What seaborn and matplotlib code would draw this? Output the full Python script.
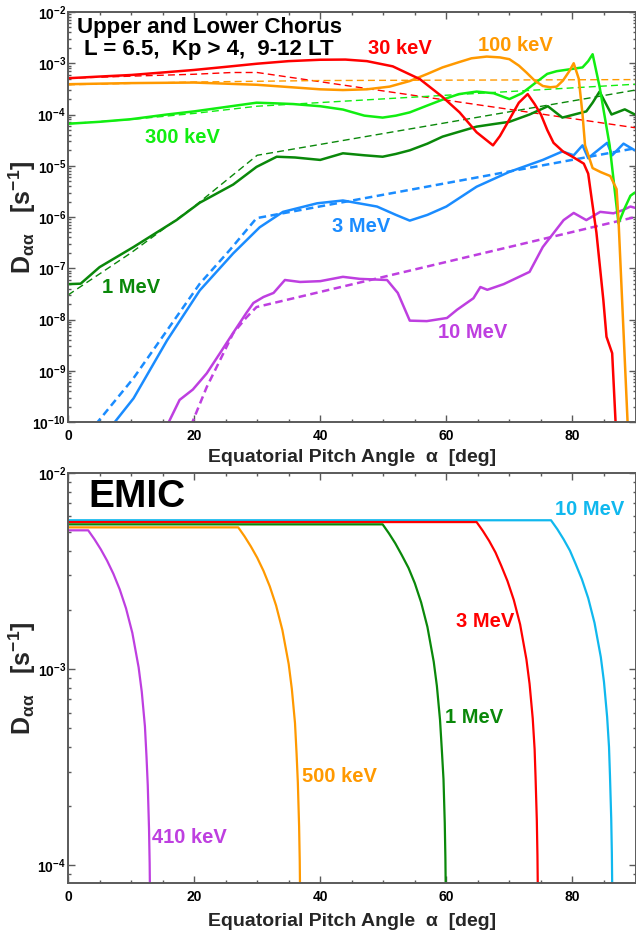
import matplotlib
matplotlib.use("Agg")
import matplotlib.pyplot as plt
import seaborn as sns
from matplotlib.ticker import LogLocator, MultipleLocator, NullFormatter

# ---------------- Chorus wave diffusion coefficients (top panel) ----------------
# 30 keV
ch30_x = [0, 5, 10, 15, 20, 25, 30, 35, 40, 44, 47.4, 51.5, 55.8, 59.4, 62.1, 64.8, 67.4,
          68.5, 70, 71.5, 72.9, 74, 75, 76, 77, 78.5, 80, 81.8, 82.5, 83.0, 83.8, 84.9,
          85.4, 86.3, 86.9]
ch30_y = [5.1e-4, 5.5e-4, 5.9e-4, 6.6e-4, 7.4e-4, 8.5e-4, 9.8e-4, 1.1e-3, 1.17e-3, 1.18e-3,
          1.1e-3, 8.7e-4, 4.9e-4, 2.2e-4, 1.1e-4, 4.5e-5, 2.5e-5, 3.8e-5, 8e-5, 1.7e-4,
          2.5e-4, 1.6e-4, 1.0e-4, 5e-5, 2.8e-5, 1.9e-5, 1.5e-5, 1.1e-5, 7e-6, 2.5e-6, 5e-7,
          2.4e-8, 4.6e-9, 2.2e-9, 7e-11]
ch30_fit_x = [0, 10, 20, 26, 30, 90]
ch30_fit_y = [5.1e-4, 5.6e-4, 6.1e-4, 6.6e-4, 6.6e-4, 5.5e-5]

# 100 keV
ch100_x = [0, 10, 20, 30, 40, 43.6, 47.4, 51, 54.2, 57, 59.4, 62, 64, 66.4, 68.5, 70, 71.5,
           72.7, 74, 75.3, 76.5, 77.5, 78.5, 79.5, 80.2, 81.0, 81.6, 82.0, 83.2, 84.5, 86,
           87.0, 87.3, 88.8]
ch100_y = [3.9e-4, 4.1e-4, 4.2e-4, 3.8e-4, 3.1e-4, 3.0e-4, 3.1e-4, 3.5e-4, 4.5e-4, 6.2e-4,
           8.3e-4, 1.05e-3, 1.25e-3, 1.35e-3, 1.3e-3, 1.2e-3, 9e-4, 6.6e-4, 4.6e-4, 3.6e-4,
           3.4e-4, 3.5e-4, 4.6e-4, 7.0e-4, 1.0e-3, 5e-4, 1e-4, 2.5e-5, 9e-6, 7.5e-6, 6.3e-6,
           3.5e-6, 9e-7, 7e-11]
ch100_fit_x = [0, 20, 40, 90]
ch100_fit_y = [3.8e-4, 4.3e-4, 4.6e-4, 4.8e-4]

# 300 keV
ch300_x = [0, 5, 10, 15.7, 20, 25, 29.9, 33, 35.7, 40, 43.6, 47, 49.9, 52, 54.2, 57, 59.4,
           62, 64.8, 67.5, 70, 72, 74.3, 76, 77.5, 79.5, 81.6, 82.5, 83.2, 84.3, 85.9,
           87.3, 88.3, 89.2, 89.9]
ch300_y = [6.6e-5, 7.2e-5, 8.1e-5, 1.0e-4, 1.15e-4, 1.4e-4, 1.7e-4, 1.65e-4, 1.6e-4, 1.45e-4,
           1.25e-4, 9.5e-5, 8.7e-5, 9.5e-5, 1.1e-4, 1.5e-4, 1.95e-4, 2.5e-4, 2.8e-4, 2.6e-4,
           2.0e-4, 2.6e-4, 4.3e-4, 6.2e-4, 7.0e-4, 7.6e-4, 8.3e-4, 1.1e-3, 1.5e-3, 3.5e-4,
           2.5e-5, 7.5e-7, 1.5e-6, 2.6e-6, 3.0e-6]
ch300_fit_x = [0, 10, 20, 30, 90]
ch300_fit_y = [6.6e-5, 8.0e-5, 1.05e-4, 1.45e-4, 3.9e-4]

# 1 MeV
ch1m_x = [0, 2, 5, 10.4, 17.2, 20.9, 26.2, 29.9, 33.1, 36, 40, 43.6, 47, 49.9, 52, 54.2, 57,
          59.4, 62, 64.8, 67.5, 70, 73.2, 76.1, 78.4, 80.3, 82.2, 83.2, 84.3, 86.2, 88.3, 89.9]
ch1m_y = [4.9e-8, 5.0e-8, 1.05e-7, 2.6e-7, 8.7e-7, 1.9e-6, 4.3e-6, 9.5e-6, 1.5e-5, 1.45e-5,
          1.3e-5, 1.75e-5, 1.6e-5, 1.5e-5, 1.7e-5, 2.0e-5, 2.7e-5, 3.7e-5, 4.6e-5, 5.8e-5,
          6.5e-5, 7.2e-5, 1.0e-4, 1.45e-4, 8.7e-5, 1.0e-4, 1.15e-4, 1.7e-4, 2.8e-4, 1.0e-4,
          1.26e-4, 1.0e-4]
ch1m_fit_x = [0, 10, 20, 30, 90]
ch1m_fit_y = [3.0e-8, 2.0e-7, 1.6e-6, 1.6e-5, 3.0e-4]

# 3 MeV
ch3m_x = [6.8, 10.4, 15.7, 20.9, 26.2, 30.4, 34.1, 39.5, 43.6, 49, 52, 54.2, 57, 60, 64.8,
          70, 75.3, 78.4, 80.2, 81.6, 82.5, 83.3, 85.5, 86.3, 88.1, 89.9]
ch3m_y = [8e-11, 2.9e-10, 3.9e-9, 3.7e-8, 1.95e-7, 6.3e-7, 1.26e-6, 1.85e-6, 2.1e-6, 1.6e-6,
          1.1e-6, 8.5e-7, 1.1e-6, 1.6e-6, 3.9e-6, 7.6e-6, 1.3e-5, 1.9e-5, 1.6e-5, 2.5e-5,
          1.4e-5, 1.7e-5, 2.8e-5, 1.6e-5, 2.7e-5, 2.0e-5]
ch3m_fit_x = [4.4, 10.4, 20.9, 25.7, 29.9, 90]
ch3m_fit_y = [9e-11, 7.2e-10, 5.0e-8, 2.3e-7, 9.5e-7, 2.2e-5]

# 10 MeV
ch10m_x = [15.6, 17.7, 19.8, 22, 24.1, 26.2, 28.3, 29.4, 31, 32.6, 34.4, 36.8, 40, 43.6, 46.3,
           50.6, 52.3, 54.2, 56.9, 60.1, 61.7, 64.3, 65.4, 66.5, 69.1, 73.2, 75.3, 78.6, 80.2,
           82.2, 84.4, 86.5, 87.9, 89.2, 90]
ch10m_y = [8e-11, 2.7e-10, 4.3e-10, 8.9e-10, 2.2e-9, 5.5e-9, 1.35e-8, 2.1e-8, 2.75e-8, 3.3e-8,
           5.9e-8, 5.4e-8, 5.6e-8, 6.8e-8, 6.2e-8, 5.9e-8, 3.3e-8, 9.5e-9, 9.3e-9, 1.07e-8,
           1.55e-8, 2.6e-8, 4.3e-8, 3.8e-8, 4.9e-8, 8.5e-8, 2.6e-7, 8.7e-7, 1.2e-6, 8.7e-7,
           1.26e-6, 1.18e-6, 1.35e-6, 1.6e-6, 1.5e-6]
ch10m_fit_x = [19.5, 22, 24.1, 26.2, 28.3, 29.9, 90]
ch10m_fit_y = [8.5e-11, 4.8e-10, 1.6e-9, 5.4e-9, 1.1e-8, 1.75e-8, 1.0e-6]

# ---------------- EMIC wave diffusion coefficients (bottom panel) ----------------
emic410_x = [0, 3.2, 4.2, 5.2, 6.2, 7.2, 8.2, 9.2, 10.2, 11.2, 11.7, 12.2, 12.45, 12.65,
             12.85, 12.95, 13.05]
emic410_y = [5.1e-3, 5.1e-3, 4.59e-3, 4.08e-3, 3.57e-3, 3.06e-3, 2.55e-3, 2.04e-3, 1.53e-3,
             1.02e-3, 7.65e-4, 5.1e-4, 3.57e-4, 2.55e-4, 1.53e-4, 1.02e-4, 5.1e-5]
emic500_x = [0, 27.0, 28.0, 29.0, 30.0, 31.0, 32.0, 33.0, 34.0, 35.0, 35.5, 36.0, 36.25,
             36.45, 36.65, 36.75, 36.85]
emic500_y = [5.28e-3, 5.28e-3, 4.75e-3, 4.22e-3, 3.70e-3, 3.17e-3, 2.64e-3, 2.11e-3, 1.58e-3,
             1.06e-3, 7.9e-4, 5.3e-4, 3.7e-4, 2.64e-4, 1.58e-4, 1.06e-4, 5.3e-5]
emic1m_x = [0, 49.9, 50.9, 51.9, 52.9, 54.0, 55.0, 56.0, 57.0, 58.0, 58.5, 59.0, 59.3,
            59.55, 59.75, 59.85, 59.95]
emic1m_y = [5.47e-3, 5.47e-3, 4.92e-3, 4.38e-3, 3.83e-3, 3.28e-3, 2.74e-3, 2.19e-3, 1.64e-3,
            1.09e-3, 8.2e-4, 5.5e-4, 3.8e-4, 2.74e-4, 1.64e-4, 1.09e-4, 5.5e-5]
emic3m_x = [0, 64.8, 65.8, 66.8, 67.8, 68.7, 69.7, 70.7, 71.7, 72.7, 73.2, 73.7, 74.0,
            74.15, 74.35, 74.45, 74.55]
emic3m_y = [5.62e-3, 5.62e-3, 5.06e-3, 4.50e-3, 3.93e-3, 3.37e-3, 2.81e-3, 2.25e-3, 1.69e-3,
            1.12e-3, 8.4e-4, 5.6e-4, 3.9e-4, 2.8e-4, 1.69e-4, 1.12e-4, 5.6e-5]
emic10m_x = [0, 76.6, 77.6, 78.6, 79.6, 80.5, 81.5, 82.5, 83.5, 84.5, 85.0, 85.5, 85.8,
             85.95, 86.15, 86.25, 86.35]
emic10m_y = [5.74e-3, 5.74e-3, 5.17e-3, 4.59e-3, 4.02e-3, 3.44e-3, 2.87e-3, 2.30e-3, 1.72e-3,
             1.15e-3, 8.6e-4, 5.7e-4, 4.0e-4, 2.87e-4, 1.72e-4, 1.15e-4, 5.7e-5]

x_ticks = [0, 20, 40, 60, 80]

RED = "#FF0000"
ORANGE = "#FF9900"
LIME = "#11EE11"
DGREEN = "#0A880A"
BLUE = "#1A8CFF"
PURPLE = "#BE3FE0"
CYAN = "#10B8EE"
SPINE = "#5a5a5a"

sns.set_style("ticks")
plt.rcParams["font.family"] = ["Liberation Sans", "DejaVu Sans"]
plt.rcParams["font.weight"] = "bold"
plt.rcParams["axes.labelweight"] = "bold"
plt.rcParams["mathtext.default"] = "regular"

fig = plt.figure(figsize=(6.36, 9.38), dpi=100)
W, H = 636.0, 938.0
ax1 = fig.add_axes([68 / W, 1 - 422 / H, 567.5 / W, 410 / H])
ax2 = fig.add_axes([68 / W, 1 - 883 / H, 567.5 / W, 410 / H])


def curve(ax, x, y, color, lw, ls="-"):
    sns.lineplot(x=x, y=y, ax=ax, color=color, linewidth=lw, linestyle=ls,
                 estimator=None, sort=False, legend=False)


def style_axes(ax, ymin, ymax, xlabel_y):
    ax.set_yscale("log")
    ax.set_xlim(0, 90)
    ax.set_ylim(ymin, ymax)
    ax.xaxis.set_major_locator(MultipleLocator(20))
    ax.xaxis.set_minor_locator(MultipleLocator(5))
    ax.set_xticks(x_ticks)
    ax.yaxis.set_major_locator(LogLocator(base=10, numticks=20))
    ax.yaxis.set_minor_locator(LogLocator(base=10, subs=range(2, 10), numticks=20))
    ax.yaxis.set_minor_formatter(NullFormatter())
    for s in ax.spines.values():
        s.set_visible(True)
        s.set_color(SPINE)
        s.set_linewidth(1.4)
    ax.tick_params(which="both", direction="in", top=True, right=True,
                   color=SPINE, labelcolor="black", labelsize=10, width=1.0)
    ax.tick_params(which="major", length=5)
    ax.tick_params(which="minor", length=2.5)
    ax.tick_params(axis="x", pad=5)
    ax.tick_params(axis="y", pad=1.5)
    for lab in ax.get_xticklabels() + ax.get_yticklabels():
        lab.set_fontweight("bold")
    ax.set_xlabel("Equatorial Pitch Angle  α  [deg]", fontsize=14, fontweight="bold")
    ax.set_ylabel("D$_{αα}$   [s$^{-1}$]", fontsize=18, fontweight="bold")
    ax.xaxis.set_label_coords(0.5, xlabel_y)
    ax.yaxis.set_label_coords(-0.052, 0.5)


# ---- top panel: chorus ----
style_axes(ax1, 1e-10, 1e-2, -0.066)
thin, thick = 1.0, 1.8
curve(ax1, ch30_fit_x, ch30_fit_y, RED, thin, (0, (5, 3)))
curve(ax1, ch100_fit_x, ch100_fit_y, ORANGE, thin, (0, (5, 3)))
curve(ax1, ch300_fit_x, ch300_fit_y, LIME, thin, (0, (5, 3)))
curve(ax1, ch1m_fit_x, ch1m_fit_y, DGREEN, thin, (0, (5, 3)))
curve(ax1, ch3m_fit_x, ch3m_fit_y, BLUE, thick, (0, (3, 1.8)))
curve(ax1, ch10m_fit_x, ch10m_fit_y, PURPLE, thick, (0, (3, 1.8)))
curve(ax1, ch10m_x, ch10m_y, PURPLE, thick)
curve(ax1, ch3m_x, ch3m_y, BLUE, thick)
curve(ax1, ch1m_x, ch1m_y, DGREEN, thick)
curve(ax1, ch300_x, ch300_y, LIME, thick)
curve(ax1, ch100_x, ch100_y, ORANGE, thick)
curve(ax1, ch30_x, ch30_y, RED, thick)

lbl = dict(fontsize=14.5, fontweight="bold", ha="left", va="baseline")
ax1.text(22.5, 3.89e-3, "Upper and Lower Chorus", color="black", fontsize=16,
         fontweight="bold", ha="center", va="baseline")
ax1.text(22.3, 1.45e-3, "L = 6.5,  Kp > 4,  9-12 LT", color="black", fontsize=16,
         fontweight="bold", ha="center", va="baseline")
ax1.text(47.6, 1.52e-3, "30 keV", color=RED, **lbl)
ax1.text(65.1, 1.73e-3, "100 keV", color=ORANGE, **lbl)
ax1.text(12.2, 2.78e-5, "300 keV", color=LIME, **lbl)
ax1.text(5.4, 3.29e-8, "1 MeV", color=DGREEN, **lbl)
ax1.text(41.9, 5.09e-7, "3 MeV", color=BLUE, **lbl)
ax1.text(58.7, 4.36e-9, "10 MeV", color=PURPLE, **lbl)

# ---- bottom panel: EMIC ----
style_axes(ax2, 8.1e-5, 1e-2, -0.074)
emic_lw = 1.6
curve(ax2, emic10m_x, emic10m_y, CYAN, emic_lw)
curve(ax2, emic3m_x, emic3m_y, RED, emic_lw)
curve(ax2, emic1m_x, emic1m_y, DGREEN, emic_lw)
curve(ax2, emic500_x, emic500_y, ORANGE, emic_lw)
curve(ax2, emic410_x, emic410_y, PURPLE, emic_lw)

ax2.text(3.17, 6.71e-3, "EMIC", color="black", fontsize=28, fontweight="bold",
         ha="left", va="baseline")
ax2.text(77.3, 6.11e-3, "10 MeV", color=CYAN, **lbl)
ax2.text(61.6, 1.64e-3, "3 MeV", color=RED, **lbl)
ax2.text(59.8, 5.3e-4, "1 MeV", color=DGREEN, **lbl)
ax2.text(37.1, 2.65e-4, "500 keV", color=ORANGE, **lbl)
ax2.text(13.3, 1.29e-4, "410 keV", color=PURPLE, **lbl)

fig.savefig("out.png", dpi=100)
